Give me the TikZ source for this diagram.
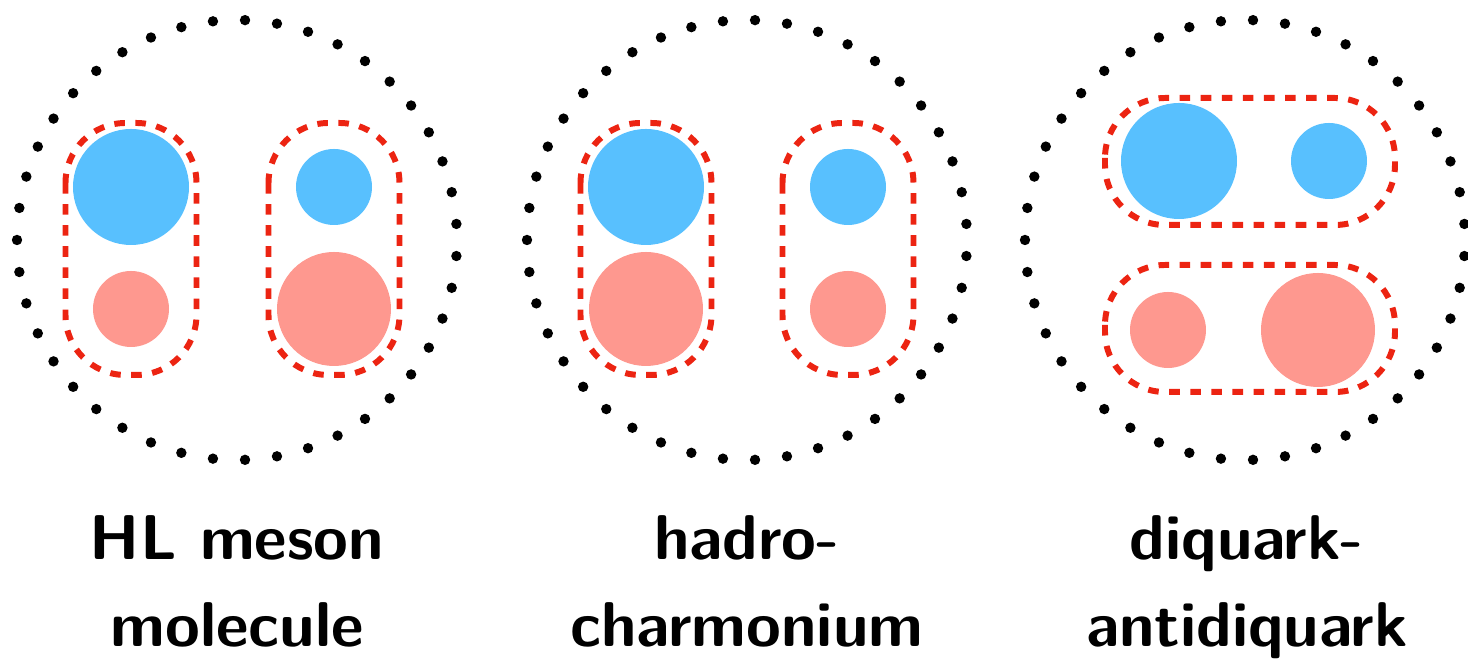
\documentclass[tikz,border=0pt]{standalone}
\usepackage{tikz}

\definecolor{qblue}{RGB}{88,192,254}
\definecolor{qpink}{RGB}{254,152,143}
\definecolor{capsred}{RGB}{236,36,18}

\begin{document}
\begin{tikzpicture}[
    cluster/.style={draw=capsred, line width=1.7pt, dash pattern=on 3pt off 3pt, rounded corners=0.6cm},
    lbl/.style={font=\sffamily\bfseries\fontsize{18}{24.7}\selectfont, align=center, anchor=north, inner sep=0pt}]
    \useasboundingbox (0,0) rectangle (14.68,-6.65);

    % dotted ring around each state
    \foreach \cx in {2.37, 7.47, 12.45}
        \foreach \k in {0,...,42}
            \fill ({\cx + 2.2*cos(180 + \k*360/43)}, {-2.40 + 2.2*sin(180 + \k*360/43)}) circle (0.052);

    % HL meson molecule
    \fill[qblue] (1.31, -1.87) circle (0.58);
    \fill[qpink] (1.31, -3.09) circle (0.38);
    \draw[cluster] (0.655, -1.23) rectangle (1.965, -3.75);

    \fill[qblue] (3.34, -1.87) circle (0.38);
    \fill[qpink] (3.34, -3.09) circle (0.57);
    \draw[cluster] (2.685, -1.23) rectangle (3.995, -3.75);

    % hadro-charmonium
    \fill[qblue] (6.46, -1.87) circle (0.58);
    \fill[qpink] (6.46, -3.09) circle (0.57);
    \draw[cluster] (5.805, -1.23) rectangle (7.115, -3.75);

    \fill[qblue] (8.48, -1.87) circle (0.38);
    \fill[qpink] (8.48, -3.09) circle (0.38);
    \draw[cluster] (7.825, -1.23) rectangle (9.135, -3.75);

    % diquark-antidiquark
    \fill[qblue] (11.79, -1.61) circle (0.58);
    \fill[qblue] (13.29, -1.61) circle (0.38);
    \draw[cluster] (11.05, -0.98) rectangle (13.95, -2.25);

    \fill[qpink] (11.68, -3.30) circle (0.38);
    \fill[qpink] (13.18, -3.30) circle (0.57);
    \draw[cluster] (11.05, -2.65) rectangle (13.95, -3.92);

    \node[lbl] (molLbl) at (2.37, -5.15) {HL meson\\molecule};
    \node[lbl] (hadLbl) at (7.47, -5.15) {hadro-\\charmonium};
    \node[lbl] (dqLbl) at (12.47, -5.15) {diquark-\\antidiquark};
\end{tikzpicture}
\end{document}
